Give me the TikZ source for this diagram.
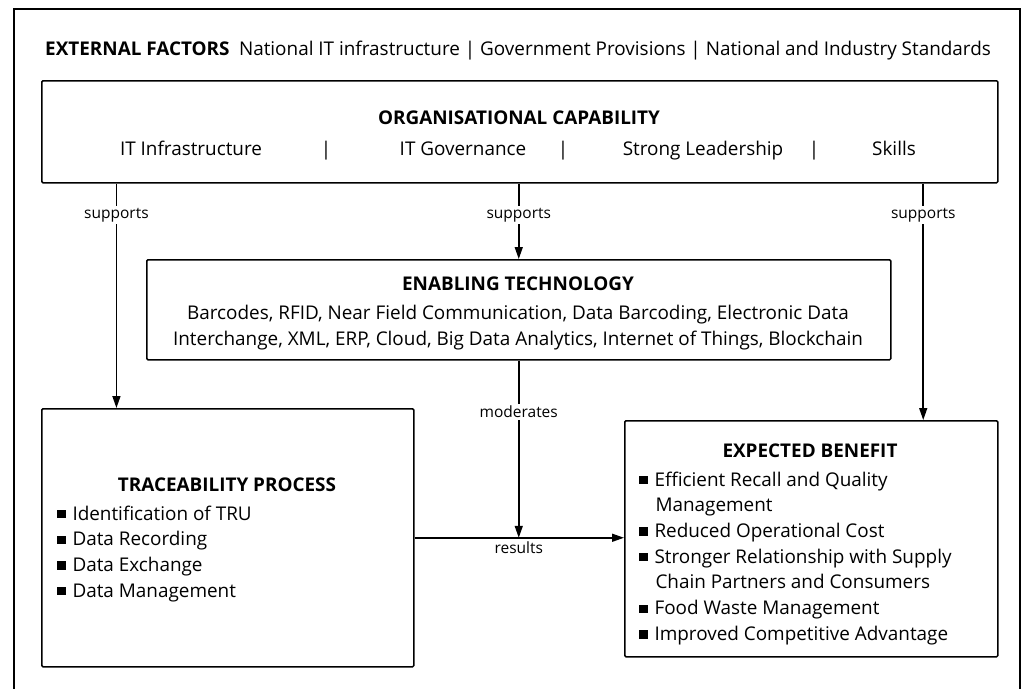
\documentclass[tikz,border=0pt]{standalone}
\usepackage{fontspec}
\setmainfont{Open Sans}
\usetikzlibrary{arrows.meta,calc}
% square list marker
\newcommand{\sqmark}{\rule[1.7pt]{8.3pt}{8.3pt}}
\begin{document}
\begin{tikzpicture}[x=1pt,y=-1pt,
  box/.style={draw, line width=1.5pt, rounded corners=1.2pt, inner sep=0pt, anchor=north west},
  txt/.style={inner sep=0pt, anchor=base, font=\fontsize{18.9}{22}\selectfont},
  head/.style={txt, font=\fontsize{18.9}{22}\selectfont\bfseries},
  item/.style={inner sep=0pt, anchor=base west, font=\fontsize{18.9}{22}\selectfont},
  lbl/.style={fill=white, inner sep=2pt, font=\fontsize{15.5}{18}\selectfont},
  arr/.style={draw, line width=1.5pt, -{Triangle[length=12pt,width=8pt]}}]
\useasboundingbox (0,0) rectangle (1022,688);

% outer frame (open at the bottom)
\draw[line width=1.5pt] (14,700) -- (14,9) -- (1020,9) -- (1020,700);

% external factors line
\node[item] (ext) at (45,55) {\textbf{EXTERNAL FACTORS}\enspace National IT infrastructure | Government Provisions | National and Industry Standards};

% organisational capability
\node[box, minimum width=956pt, minimum height=102pt] (org) at (41,80) {};
\node[head] (orgT) at (519,124) {ORGANISATIONAL CAPABILITY};
\node[txt] (oc1) at (191,155) {IT Infrastructure};
\node[txt] (os1) at (326,155) {|};
\node[txt] (oc2) at (463,155) {IT Governance};
\node[txt] (os2) at (563,155) {|};
\node[txt] (oc3) at (703,155) {Strong Leadership};
\node[txt] (os3) at (814,155) {|};
\node[txt] (oc4) at (894,155) {Skills};

% enabling technology
\node[box, minimum width=744pt, minimum height=100pt] (et) at (146,259) {};
\node[head] (etT) at (518,290) {ENABLING TECHNOLOGY};
\node[txt] (et1) at (518,319) {Barcodes, RFID, Near Field Communication, Data Barcoding, Electronic Data};
\node[txt] (et2) at (518,345) {Interchange, XML, ERP, Cloud, Big Data Analytics, Internet of Things, Blockchain};

% traceability process
\node[box, minimum width=372pt, minimum height=258pt] (tp) at (41,408) {};
\node[head] (tpT) at (227,491) {TRACEABILITY PROCESS};
\node[item] (tp1) at (57,520) {\sqmark\hspace{7pt}Identification of TRU};
\node[item] (tp2) at (57,545.7) {\sqmark\hspace{7pt}Data Recording};
\node[item] (tp3) at (57,571.4) {\sqmark\hspace{7pt}Data Exchange};
\node[item] (tp4) at (57,597.1) {\sqmark\hspace{7pt}Data Management};

% expected benefit
\node[box, minimum width=373pt, minimum height=236pt] (eb) at (624,420) {};
\node[head] (ebT) at (810,457) {EXPECTED BENEFIT};
\node[item] (eb1) at (639,486) {\sqmark\hspace{7pt}Efficient Recall and Quality};
\node[item] (eb1b) at (655.3,511.7) {Management};
\node[item] (eb2) at (639,537.4) {\sqmark\hspace{7pt}Reduced Operational Cost};
\node[item] (eb3) at (639,563.1) {\sqmark\hspace{7pt}Stronger Relationship with Supply};
\node[item] (eb3b) at (655.3,588.8) {Chain Partners and Consumers};
\node[item] (eb4) at (639,614.5) {\sqmark\hspace{7pt}Food Waste Management};
\node[item] (eb5) at (639,640.2) {\sqmark\hspace{7pt}Improved Competitive Advantage};

% connectors
\coordinate (tpIn) at ($(tp.north west)!0.202!(tp.north east)$);
\coordinate (ebIn) at ($(eb.north west)!0.799!(eb.north east)$);
\draw[arr] (tpIn |- org.south) -- node[lbl, pos=0.14] (s1) {supports} (tpIn);
\draw[arr] (org.south -| et.north) -- node[lbl, pos=0.42] (s2) {supports} (et.north);
\draw[arr] (ebIn |- org.south) -- node[lbl, pos=0.135] (s3) {supports} (ebIn);
\draw[arr] (tp.east) -- (tp.east -| eb.west);
\draw[arr] (et.south) -- node[lbl, pos=0.29] (mod) {moderates} (et.south |- tp.east);
\node[lbl, fill=none, anchor=north] (res) at ($(et.south |- tp.east)+(0,2)$) {results};
\end{tikzpicture}
\end{document}
